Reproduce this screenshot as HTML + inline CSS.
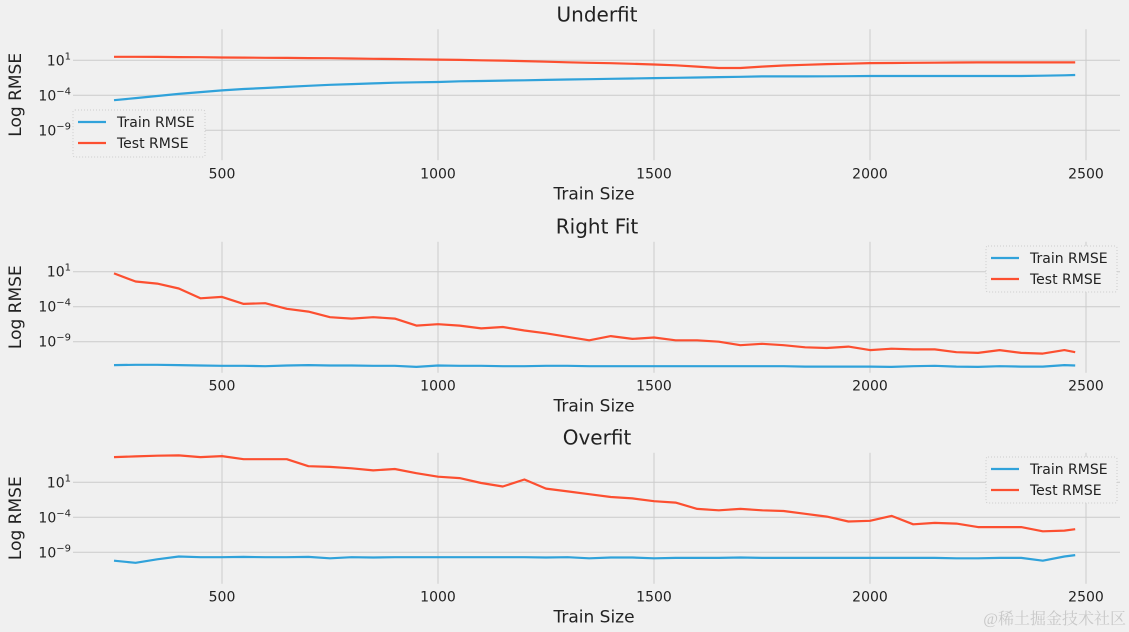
<!DOCTYPE html>
<html><head><meta charset="utf-8"><style>
html,body{margin:0;padding:0;background:#f0f0f0;}
svg{display:block;font-family:"DejaVu Sans","Liberation Sans",sans-serif;}
</style></head><body>
<svg id="chart" width="1129" height="632" viewBox="0 0 1129 632">
<rect x="0" y="0" width="1129" height="632" fill="#f0f0f0"/>
<text x="1126" y="624" text-anchor="end" font-size="16" fill="#c8c8c8" font-family="'Liberation Serif','Noto Serif CJK SC',serif">@稀土掘金技术社区</text>
</svg>
<script>
const trainSizes = [250,300,350,400,450,500,550,600,650,700,750,800,850,900,950,1000,1050,1100,1150,1200,1250,1300,1350,1400,1450,1500,1550,1600,1650,1700,1750,1800,1850,1900,1950,2000,2050,2100,2150,2200,2250,2300,2350,2400,2450,2475];
const xTicks = [500,1000,1500,2000,2500];
const yTicks = [1,-4,-9];
const yTickLabels = ["10","10","10"];
const yTickExps = ["1","−4","−9"];
const panelTitles = ["Underfit","Right Fit","Overfit"];
// log10 of RMSE
const underTrain = [-4.7,-4.4,-4.1,-3.8,-3.55,-3.3,-3.1,-2.95,-2.8,-2.65,-2.5,-2.4,-2.3,-2.2,-2.15,-2.1,-2.0,-1.95,-1.9,-1.85,-1.8,-1.75,-1.7,-1.65,-1.6,-1.55,-1.5,-1.45,-1.4,-1.35,-1.3,-1.3,-1.3,-1.28,-1.27,-1.25,-1.25,-1.25,-1.25,-1.25,-1.25,-1.25,-1.25,-1.2,-1.15,-1.1];
const underTest = [1.5,1.5,1.48,1.46,1.44,1.4,1.38,1.36,1.34,1.32,1.3,1.26,1.22,1.18,1.14,1.1,1.05,1.0,0.95,0.88,0.8,0.72,0.65,0.58,0.5,0.4,0.28,0.1,-0.1,-0.1,0.1,0.25,0.35,0.45,0.52,0.6,0.62,0.64,0.66,0.68,0.7,0.7,0.7,0.7,0.7,0.7];
const rightTrain = [-12.35,-12.3,-12.3,-12.35,-12.4,-12.45,-12.45,-12.5,-12.4,-12.35,-12.4,-12.4,-12.45,-12.45,-12.6,-12.4,-12.45,-12.45,-12.5,-12.5,-12.45,-12.45,-12.5,-12.5,-12.5,-12.5,-12.5,-12.5,-12.5,-12.5,-12.5,-12.5,-12.55,-12.55,-12.55,-12.55,-12.6,-12.5,-12.45,-12.55,-12.6,-12.5,-12.55,-12.55,-12.35,-12.4];
const rightTest = [0.76,-0.4,-0.7,-1.4,-2.8,-2.6,-3.6,-3.5,-4.3,-4.7,-5.5,-5.7,-5.5,-5.7,-6.7,-6.5,-6.7,-7.1,-6.9,-7.4,-7.8,-8.3,-8.8,-8.2,-8.6,-8.4,-8.8,-8.8,-9.0,-9.5,-9.3,-9.5,-9.8,-9.9,-9.7,-10.2,-10.0,-10.1,-10.1,-10.5,-10.6,-10.2,-10.6,-10.7,-10.2,-10.5];
const overTrain = [-10.2,-10.5,-10.0,-9.6,-9.7,-9.7,-9.65,-9.7,-9.7,-9.65,-9.85,-9.7,-9.75,-9.7,-9.7,-9.7,-9.7,-9.7,-9.7,-9.7,-9.75,-9.7,-9.85,-9.75,-9.75,-9.85,-9.8,-9.8,-9.8,-9.75,-9.8,-9.8,-9.8,-9.8,-9.8,-9.8,-9.8,-9.8,-9.8,-9.85,-9.85,-9.8,-9.8,-10.2,-9.6,-9.4];
const overTest = [4.6,4.7,4.8,4.85,4.6,4.75,4.3,4.3,4.3,3.3,3.2,3.0,2.7,2.9,2.3,1.8,1.6,0.9,0.4,1.4,0.1,-0.3,-0.7,-1.1,-1.3,-1.7,-1.9,-2.8,-3.0,-2.8,-3.0,-3.1,-3.5,-3.9,-4.6,-4.5,-3.8,-5.0,-4.8,-4.9,-5.4,-5.4,-5.4,-6.0,-5.9,-5.7];

const trainSeries = [underTrain,rightTrain,overTrain];
const testSeries = [underTest,rightTest,overTest];
const NS = "http://www.w3.org/2000/svg";
const svg = document.getElementById('chart');
const wm = svg.lastElementChild;
const AX_L = 73, AX_R = 1120, AX_H = 131;
const panelTops = [29.3,241.7,452.7];
const panelY10 = [60.3,271.7,482.3];
const legendBoxes = [[73,110,132,47],[986,246,131,46],[986,457,131,46]];
function xScale(v){ return 222 + (v-500)*0.432; }
function mk(tag, attrs, parent){ const e=document.createElementNS(NS,tag); for(const k in attrs) e.setAttribute(k,attrs[k]); (parent||svg).insertBefore(e, parent?null:wm); return e; }

for(let p=0;p<3;p++){
  const top = panelTops[p], bottom = top+AX_H, y10 = panelY10[p];
  const yScale = v => y10 - (v-1)*7.0;
  const g = mk('g',{});
  
  
  xTicks.forEach(t=>{
    const x = xScale(t);
    const l = mk('line',{x1:x,x2:x,y1:top,y2:bottom,stroke:'#cbcbcb','stroke-width':1},g);
    
    
    const tx = mk('text',{x:x,y:bottom+18,'text-anchor':'middle','font-size':14,fill:'#222'},g);
    tx.textContent = t;
    
    
  });
  yTicks.forEach((t,i)=>{
    const y = yScale(t);
    const l = mk('line',{x1:AX_L,x2:AX_R,y1:y,y2:y,stroke:'#cbcbcb','stroke-width':1},g);
    
    
    const tx = mk('text',{x:AX_L-2,y:y+5,'text-anchor':'end','font-size':14,fill:'#222'},g);
    
    
    const b = document.createElementNS(NS,'tspan'); b.textContent = yTickLabels[i]; tx.appendChild(b);
    const s = document.createElementNS(NS,'tspan'); s.setAttribute('dy','-6'); s.setAttribute('font-size','10'); s.textContent = yTickExps[i]; tx.appendChild(s);
  });
  const title = mk('text',{x:597,y:top-8,'text-anchor':'middle','font-size':20,fill:'#222'},g);
  title.textContent = panelTitles[p];
  
  
  const xl = mk('text',{x:594,y:bottom+39,'text-anchor':'middle','font-size':17,fill:'#222'},g);
  xl.textContent = 'Train Size';
  
  
  const yl = mk('text',{x:0,y:0,'text-anchor':'middle','font-size':17,fill:'#222',transform:'translate(21,'+(top+AX_H/2)+') rotate(-90)'},g);
  yl.textContent = 'Log RMSE';
  
  
  [[trainSeries[p],'#30a2da','train-rmse-line'],[testSeries[p],'#fc4f30','test-rmse-line']].forEach(([arr,col,nm])=>{
    const d = arr.map((v,i)=>(i?'L':'M')+xScale(trainSizes[i]).toFixed(1)+','+yScale(v).toFixed(1)).join(' ');
    const path = mk('path',{d:d,fill:'none',stroke:col,'stroke-width':2.2,'stroke-linejoin':'round'},g);
    
    
  });
  const [lx,ly,lw,lh] = legendBoxes[p];
  const lg = mk('g',{},g);
  
  
  mk('rect',{x:lx,y:ly,width:lw,height:lh,fill:'#f0f0f0',stroke:'#cccccc','stroke-dasharray':'1,2',rx:2},lg);
  [['Train RMSE','#30a2da'],['Test RMSE','#fc4f30']].forEach(([lab,col],i)=>{
    const yy = ly+12+i*21;
    const ln = mk('line',{x1:lx+5,x2:lx+33,y1:yy,y2:yy,stroke:col,'stroke-width':2.2},lg);
    
    
    const t = mk('text',{x:lx+44,y:yy+5,'font-size':14,fill:'#222'},lg);
    t.textContent = lab;
    
    
  });
}
</script>
</body></html>
